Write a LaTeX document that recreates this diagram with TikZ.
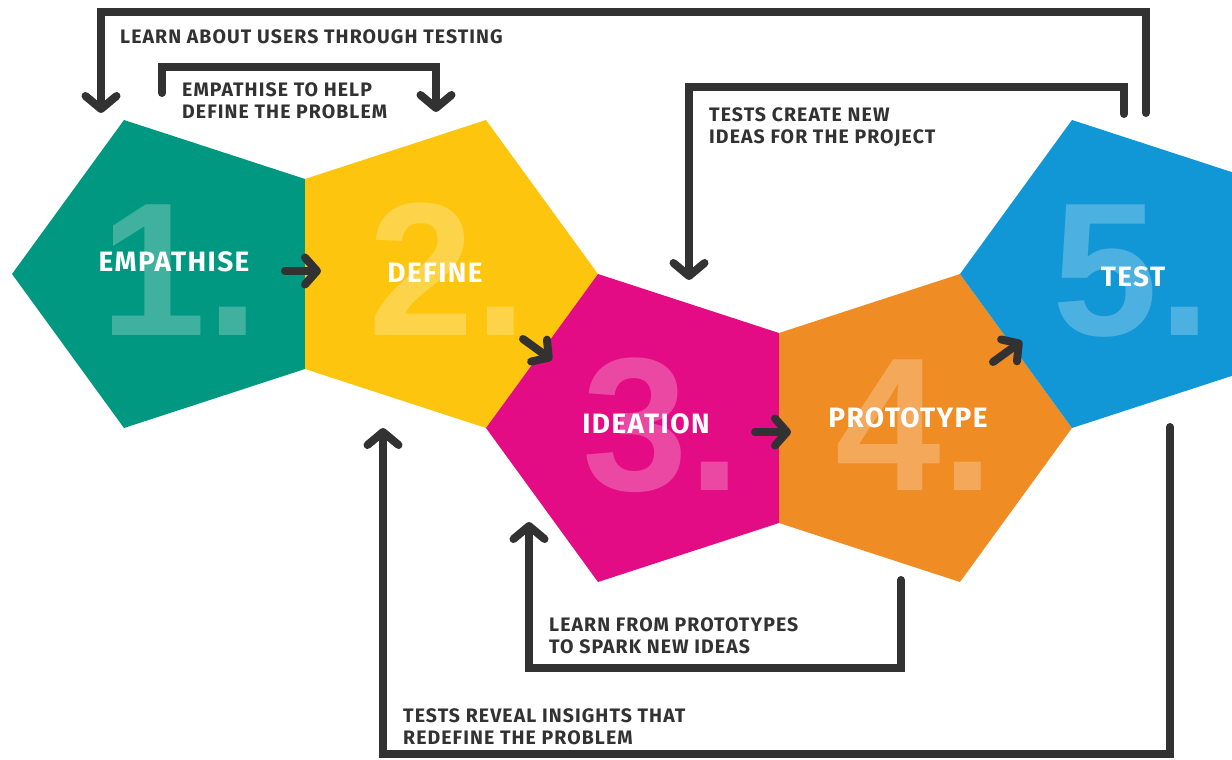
\documentclass[tikz,border=0pt]{standalone}
\usepackage{fontspec}
\setmainfont{Fira Sans}
\newfontfamily\numfont{Liberation Sans}
\newfontfamily\lblfont[LetterSpace=5.5]{Fira Sans}
\newfontfamily\stagefont[LetterSpace=5]{Fira Sans}
\usetikzlibrary{arrows.meta}
\definecolor{cteal}{RGB}{0,152,128}
\definecolor{cyellow}{RGB}{253,197,14}
\definecolor{cpink}{RGB}{228,12,132}
\definecolor{corange}{RGB}{240,140,36}
\definecolor{cblue}{RGB}{17,150,214}
\definecolor{dark}{RGB}{50,50,50}
\begin{document}
\begin{tikzpicture}[x=1pt,y=-1pt,
  bignum/.style={text=white, opacity=0.25, text opacity=0.25, font=\numfont\fontsize{190}{190}\selectfont\bfseries, inner sep=0, anchor=base},
  stage/.style={text=white, font=\stagefont\fontsize{28}{30}\selectfont\bfseries, inner sep=0, anchor=base},
  lbl/.style={text=dark, font=\lblfont\fontsize{19.5}{22}\selectfont\bfseries, align=left, anchor=north west, inner sep=0},
  conn/.style={draw=dark, line width=8pt, line cap=round, line join=miter, -{Straight Barb[length=13pt,width=31pt,round]}},
  flow/.style={draw=dark, line width=8pt, line cap=round, -{Straight Barb[length=12pt,width=27pt,round]}}
]
\useasboundingbox (0,0) rectangle (1232,760);
\clip (0,0) rectangle (1232,760);
\fill[white] (0,0) rectangle (1232,760);
% pentagons
\fill[cteal]   (12,274) -- (124,120) -- (305,179) -- (305,369) -- (124,428) -- cycle;
\fill[cyellow] (598,274) -- (486,120) -- (305,179) -- (305,369) -- (486,428) -- cycle;
\fill[cpink]   (486,428) -- (598,274) -- (779,333) -- (779,523) -- (598,582) -- cycle;
\fill[corange] (1072,428) -- (960,274) -- (779,333) -- (779,523) -- (960,582) -- cycle;
\fill[cblue]   (960,274) -- (1072,120) -- (1253,179) -- (1253,369) -- (1072,428) -- cycle;
% big numbers
\node[bignum] (n1) at (180,335) {1.};
\node[bignum] (n2) at (448,335) {2.};
\node[bignum] (n3) at (662,490) {3.};
\node[bignum] (n4) at (915,490) {4.};
\node[bignum] (n5) at (1132,335) {5.};
% stage names
\node[stage] (s1) at (174,271) {EMPATHISE};
\node[stage] (s2) at (435,282) {DEFINE};
\node[stage] (s3) at (646,433) {IDEATION};
\node[stage] (s4) at (908,427) {PROTOTYPE};
\node[stage] (s5) at (1133,286) {TEST};
% flow arrows
\coordinate (f1a) at (285,271); \coordinate (f1b) at (321,271);
\coordinate (f2a) at (523,339); \coordinate (f2b) at (552,360);
\coordinate (f3a) at (755,432); \coordinate (f3b) at (791,432);
\coordinate (f4a) at (993,362); \coordinate (f4b) at (1022,341);
\draw[flow] (f1a) -- (f1b);
\draw[flow] (f2a) -- (f2b);
\draw[flow] (f3a) -- (f3b);
\draw[flow] (f4a) -- (f4b);
% feedback connectors
\coordinate (c1a) at (1146,113); \coordinate (c1b) at (101,113);
\coordinate (c2a) at (162,93);   \coordinate (c2b) at (436,112);
\coordinate (c3a) at (1124,114); \coordinate (c3b) at (689,280);
\coordinate (c4a) at (901,580);  \coordinate (c4b) at (529,522);
\coordinate (c5a) at (1170,427); \coordinate (c5b) at (383,428);
\draw[conn] (c1a) -- (1146,12) -- (101,12) -- (c1b);
\draw[conn] (c2a) -- (162,67) -- (436,67) -- (c2b);
\draw[conn] (c3a) -- (1124,87) -- (689,87) -- (c3b);
\draw[conn] (c4a) -- (901,668) -- (529,668) -- (c4b);
\draw[conn] (c5a) -- (1170,754) -- (383,754) -- (c5b);
% labels
\node[lbl] (l1) at (120,29) {LEARN ABOUT USERS THROUGH TESTING};
\node[lbl] (l2) at (182,82) {EMPATHISE TO HELP\\DEFINE THE PROBLEM};
\node[lbl] (l3) at (709,107) {TESTS CREATE NEW\\IDEAS FOR THE PROJECT};
\node[lbl] (l4) at (549,617) {LEARN FROM PROTOTYPES\\TO SPARK NEW IDEAS};
\node[lbl] (l5) at (403,708) {TESTS REVEAL INSIGHTS THAT\\REDEFINE THE PROBLEM};
\end{tikzpicture}
\end{document}
